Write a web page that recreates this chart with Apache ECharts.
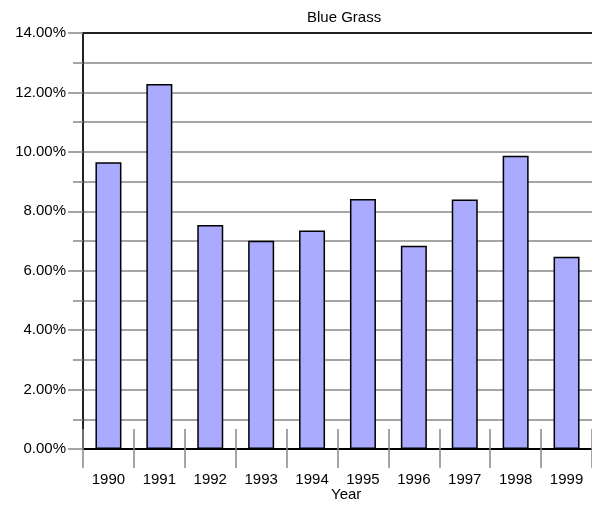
<!DOCTYPE html>
<html><head><meta charset="utf-8">
<script src="https://cdn.jsdelivr.net/npm/echarts@6/dist/echarts.min.js"></script>
<style>html,body{margin:0;padding:0;background:#fff}#c{width:592px;height:508px}</style>
</head><body><div id="c"></div>
<script>
var titleText = 'Blue Grass';
var xTitle = 'Year';
var years = ['1990','1991','1992','1993','1994','1995','1996','1997','1998','1999'];
var values = [9.65, 12.28, 7.54, 7.01, 7.35, 8.41, 6.84, 8.40, 9.87, 6.47];
var yMin = 0, yMax = 14, yStep = 2;

var font = 'Liberation Sans, Arial, sans-serif';
var chart = echarts.init(document.getElementById('c'), null, {renderer:'canvas'});
chart.setOption({
  animation: false,
  backgroundColor: '#fff',
  title: {text: titleText, left: 302, top: 5, textStyle: {fontFamily: font, fontSize: 15, fontWeight: 'normal', color: '#000'}},
  grid: {left: 83, top: 33, width: 512, bottom: 59, containLabel: false},
  graphic: [{type: 'text', left: 331, top: 487, style: {text: xTitle, font: '15px ' + font, fill: '#000'}}],
  xAxis: [
    {type: 'category', data: years, position: 'bottom',
      axisLine: {show: true, lineStyle: {color: '#000', width: 2}},
      axisTick: {show: true, inside: false, length: 19, lineStyle: {color: '#888', width: 1.5}},
      axisLabel: {margin: 23, fontFamily: font, fontSize: 15, color: '#000'},
      splitLine: {show: false}},
    {type: 'category', data: years, position: 'bottom',
      axisLine: {show: false},
      axisTick: {show: true, inside: true, length: 20, lineStyle: {color: '#888', width: 1.5}},
      axisLabel: {show: false}, splitLine: {show: false}},
    {type: 'category', data: years, position: 'top',
      axisLine: {show: true, lineStyle: {color: '#222', width: 2}},
      axisTick: {show: false}, axisLabel: {show: false}, splitLine: {show: false}}
  ],
  yAxis: {type: 'value', min: yMin, max: yMax, interval: yStep,
    axisLine: {show: true, lineStyle: {color: '#222', width: 2}},
    axisTick: {show: true, length: 15, lineStyle: {color: '#888', width: 1.5}},
    minorTick: {show: true, splitNumber: 2, length: 10, lineStyle: {color: '#888', width: 1.5}},
    splitLine: {show: true, lineStyle: {color: '#888', width: 1.5}},
    minorSplitLine: {show: true, lineStyle: {color: '#888', width: 1.5}},
    axisLabel: {margin: 17, fontFamily: font, fontSize: 15, color: '#000',
      formatter: function(v){ return v.toFixed(2) + '%'; }}
  },
  series: [{type: 'bar', xAxisIndex: 0, data: values, barWidth: 26,
    itemStyle: {color: '#aaaaff', borderColor: '#000', borderWidth: 1.5}}]
});
</script></body></html>
